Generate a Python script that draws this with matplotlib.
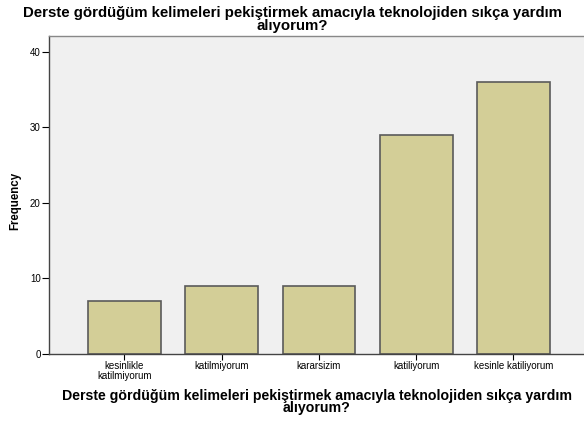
import numpy as np
import matplotlib.pyplot as plt

plt.rcParams['font.family'] = ['Liberation Sans', 'DejaVu Sans']

question = 'Derste gördüğüm kelimeleri pekiştirmek amacıyla teknolojiden sıkça yardım\nalıyorum?'
categories = ['kesinlikle\nkatilmiyorum', 'katilmiyorum', 'kararsizim', 'katiliyorum', 'kesinle katiliyorum']
counts = [7, 9, 9, 29, 36]
yticks = [0, 10, 20, 30, 40]

fig = plt.figure(figsize=(5.84, 4.21), dpi=100)
ax = fig.add_axes([49 / 584, 67 / 421, 1 - 49 / 584, 318 / 421])
ax.set_facecolor('#f0f0f0')

x = np.arange(len(categories))
ax.bar(x, counts, width=0.75, color='#d3ce97', edgecolor='#5a5a5a', linewidth=1.2)

ax.set_xlim(-0.776, 4.725)
ax.set_ylim(0, 42.1)
ax.set_xticks(x)
ax.set_xticklabels(categories, fontsize=7, linespacing=0.95)
ax.set_yticks(yticks)
ax.tick_params(axis='y', labelsize=7, length=5, width=0.8, pad=1)
ax.tick_params(axis='x', length=4, width=0.8, pad=1)

for side in ['left', 'bottom', 'top']:
    ax.spines[side].set_color('#444444')
    ax.spines[side].set_linewidth(1.0)
ax.spines['top'].set_color('#888888')
ax.spines['right'].set_visible(False)

ax.set_ylabel('Frequency', fontsize=8.3, fontweight='bold')
ax.yaxis.set_label_coords(-0.051, 0.48)
ax.set_xlabel(question, fontsize=10.2, fontweight='bold', linespacing=0.85)
ax.xaxis.set_label_coords(0.5, -0.109)
ax.xaxis.label.set_va('top')
fig.text(0.5, 0.985, question, ha='center', va='top', fontsize=10.8,
         fontweight='bold', linespacing=0.9)

fig.savefig('out.png', dpi=100)
